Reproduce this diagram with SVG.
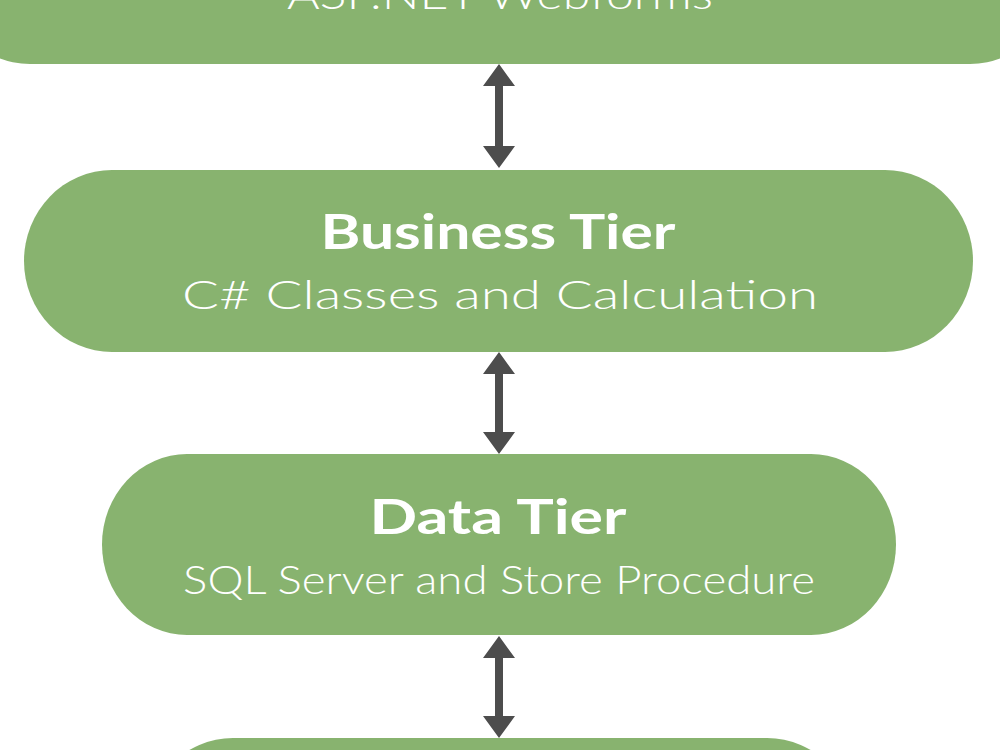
<svg xmlns="http://www.w3.org/2000/svg" width="1000" height="750" viewBox="0 0 1000 750">
  <style>
    .node { fill: #88b36f; }
    .title { font-family: Lato, "Noto Sans", "Liberation Sans", sans-serif; font-weight: 700; font-size: 48px; fill: #ffffff; text-anchor: middle; }
    .sub { font-family: Lato, "Noto Sans", "Liberation Sans", sans-serif; font-weight: 300; font-size: 40px; fill: #ffffff; text-anchor: middle; }
    .conn { fill: #4d4d4d; stroke: none; }
  </style>
  <rect width="1000" height="750" fill="#ffffff"/>
  <g id="presentation-tier">
    <rect class="node" x="-58" y="-118" width="1116" height="182" rx="88" ry="91"/>
    <text class="sub" x="500" y="9" textLength="426" lengthAdjust="spacingAndGlyphs">ASP.NET Webforms</text>
  </g>
  <g id="business-tier">
    <rect class="node" x="24" y="170" width="949" height="182" rx="88" ry="91"/>
    <text class="title" x="498" y="249" textLength="355" lengthAdjust="spacingAndGlyphs">Business Tier</text>
    <text class="sub" x="500" y="309" textLength="636" lengthAdjust="spacingAndGlyphs">C# Classes and Calculation</text>
  </g>
  <g id="data-tier">
    <rect class="node" x="102" y="454" width="794" height="181" rx="85" ry="90.5"/>
    <text class="title" x="498" y="534" textLength="257" lengthAdjust="spacingAndGlyphs">Data Tier</text>
    <text class="sub" x="499" y="594" textLength="632" lengthAdjust="spacingAndGlyphs">SQL Server and Store Procedure</text>
  </g>
  <g id="bottom-tier">
    <rect class="node" x="145" y="738" width="710" height="182" rx="88" ry="91"/>
  </g>
  <g id="connectors">
    <path class="conn" d="M499,64 L515,86 L503,86 L503,146 L515,146 L499,168 L483,146 L495,146 L495,86 L483,86 Z"/>
    <path class="conn" d="M499,352 L515,374 L503,374 L503,432 L515,432 L499,454 L483,432 L495,432 L495,374 L483,374 Z"/>
    <path class="conn" d="M499,636 L515,658 L503,658 L503,716 L515,716 L499,738 L483,716 L495,716 L495,658 L483,658 Z"/>
  </g>
</svg>
